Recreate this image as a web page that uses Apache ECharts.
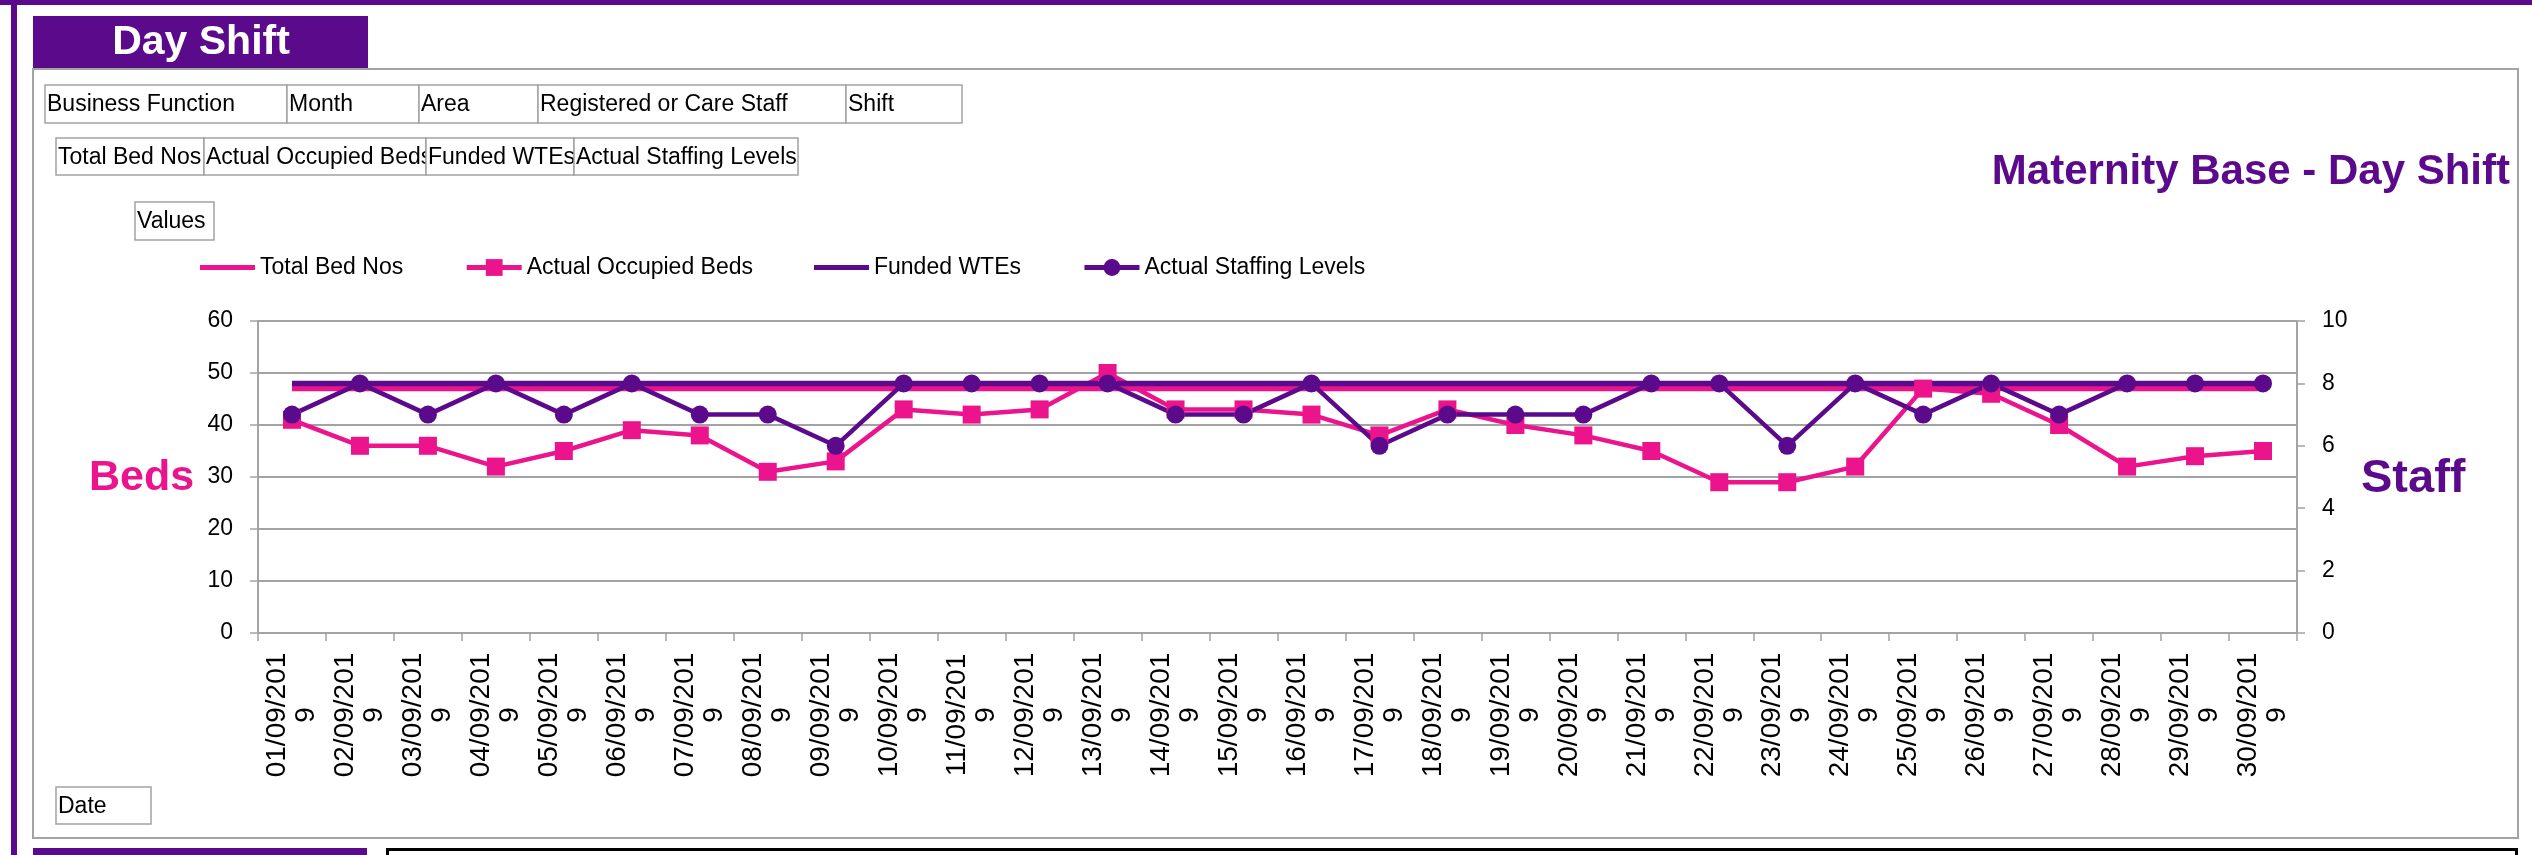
<!DOCTYPE html>
<html><head><meta charset="utf-8">
<script src="https://cdn.jsdelivr.net/npm/echarts@6/dist/echarts.min.js"></script>
<style>html,body{margin:0;padding:0;background:#fff}#c{width:2532px;height:855px}</style>
</head><body><div id="c"></div>
<script>
// ---- data ----
const dates = ['01/09/2019','02/09/2019','03/09/2019','04/09/2019','05/09/2019','06/09/2019','07/09/2019','08/09/2019','09/09/2019','10/09/2019',
  '11/09/2019','12/09/2019','13/09/2019','14/09/2019','15/09/2019','16/09/2019','17/09/2019','18/09/2019','19/09/2019','20/09/2019',
  '21/09/2019','22/09/2019','23/09/2019','24/09/2019','25/09/2019','26/09/2019','27/09/2019','28/09/2019','29/09/2019','30/09/2019'];
const totalBedNos = [47,47,47,47,47,47,47,47,47,47,47,47,47,47,47,47,47,47,47,47,47,47,47,47,47,47,47,47,47,47];
const actualOccupiedBeds = [41,36,36,32,35,39,38,31,33,43,42,43,50,43,43,42,38,43,40,38,35,29,29,32,47,46,40,32,34,35];
const fundedWTEs = [8,8,8,8,8,8,8,8,8,8,8,8,8,8,8,8,8,8,8,8,8,8,8,8,8,8,8,8,8,8];
const actualStaffingLevels = [7,8,7,8,7,8,7,7,6,8,8,8,8,7,7,8,6,7,7,7,8,8,6,8,7,8,7,8,8,8];
const seriesNames = ['Total Bed Nos','Actual Occupied Beds','Funded WTEs','Actual Staffing Levels'];
const bedsAxis = {min:0, max:60, interval:10};
const staffAxis = {min:0, max:10, interval:2};
const filterRow1 = ['Business Function','Month','Area','Registered or Care Staff','Shift'];
const filterRow2 = ['Total Bed Nos','Actual Occupied Beds','Funded WTEs','Actual Staffing Levels'];
const valuesLabel = 'Values';
const dateLabel = 'Date';
const chartTitle = 'Maternity Base - Day Shift';
const panelTitle = 'Day Shift';
const leftAxisTitle = 'Beds';
const rightAxisTitle = 'Staff';

// ---- layout / style ----
const PURPLE = '#5B0A8C', PINK = '#EC148C', GRAY = '#a3a3a3';
const FONT = '"Liberation Sans", Arial, sans-serif';
const row1Edges = [45,287,419,538,846,962];
const row2Edges = [56,204,426,574,798];
const LINE_ICON = 'path://M0,0L55,0L55,5L0,5Z';

function buttons(labels, edges, y, h){
  const out = [];
  labels.forEach((t,i)=>{
    out.push({type:'rect', shape:{x:edges[i], y:y, width:edges[i+1]-edges[i], height:h},
      style:{fill:'#fff', stroke:GRAY, lineWidth:1.5}});
    out.push({type:'text', x:edges[i]+2, y:y+h/2+1,
      style:{text:t, fill:'#000', font:'23px '+FONT, textAlign:'left', textVerticalAlign:'middle', align:'left', verticalAlign:'middle'}});
  });
  return out;
}

const graphics = [
  {type:'rect', shape:{x:0,y:0,width:2532,height:5}, style:{fill:PURPLE}},
  {type:'rect', shape:{x:11,y:0,width:6,height:855}, style:{fill:PURPLE}},
  {type:'rect', shape:{x:33,y:16,width:335,height:52}, style:{fill:PURPLE}},
  {type:'text', x:201, y:43, style:{text:panelTitle, fill:'#fff', font:'bold 41px '+FONT, textAlign:'center', textVerticalAlign:'middle', align:'center', verticalAlign:'middle'}},
  {type:'rect', shape:{x:33,y:69,width:2485,height:769}, style:{fill:'none', stroke:GRAY, lineWidth:2}},
  {type:'rect', shape:{x:33,y:848,width:334,height:10}, style:{fill:PURPLE}},
  {type:'rect', shape:{x:387.5,y:849.5,width:2129,height:20}, style:{fill:'none', stroke:'#000', lineWidth:3}},
  ...buttons(filterRow1, row1Edges, 85, 38),
  ...buttons(filterRow2, row2Edges, 138, 37),
  ...buttons([valuesLabel], [135,214], 202, 38),
  ...buttons([dateLabel], [56,151], 787, 37),
  {type:'text', x:2510, y:172, style:{text:chartTitle, fill:PURPLE, font:'bold 42px '+FONT, textAlign:'right', textVerticalAlign:'middle', align:'right', verticalAlign:'middle'}},
  {type:'text', x:89, y:478, style:{text:leftAxisTitle, fill:PINK, font:'bold 43px '+FONT, textAlign:'left', textVerticalAlign:'middle', align:'left', verticalAlign:'middle'}},
  {type:'text', x:2361, y:479, style:{text:rightAxisTitle, fill:PURPLE, font:'bold 47px '+FONT, textAlign:'left', textVerticalAlign:'middle', align:'left', verticalAlign:'middle'}}
];

const chart = echarts.init(document.getElementById('c'), null, {renderer:'canvas'});
chart.setOption({
  animation:false,
  textStyle:{fontFamily:FONT},
  graphic: graphics,
  legend:{
    data: [
      {name:seriesNames[0], icon:LINE_ICON},
      {name:seriesNames[1]},
      {name:seriesNames[2], icon:LINE_ICON},
      {name:seriesNames[3]}
    ],
    left:195, top:251, itemWidth:55, itemHeight:21, itemGap:61, symbolKeepAspect:true,
    lineStyle:{width:5},
    textStyle:{fontSize:23, color:'#000', fontFamily:FONT}
  },
  grid:{left:258, right:235, top:321, bottom:222, containLabel:false},
  xAxis:{
    type:'category', data:dates, boundaryGap:true,
    axisLine:{lineStyle:{color:GRAY, width:2}},
    axisTick:{show:true, length:8, lineStyle:{color:GRAY, width:1.5}, alignWithLabel:false},
    axisLabel:{interval:0, rotate:90, align:'center', verticalAlign:'middle', margin:82, lineHeight:29,
      fontSize:28, color:'#000', fontFamily:FONT,
      formatter: v => v.slice(0,9)+'\n'+v.slice(9)}
  },
  yAxis:[
    {type:'value', min:bedsAxis.min, max:bedsAxis.max, interval:bedsAxis.interval, position:'left',
      axisLine:{show:true, lineStyle:{color:GRAY, width:2}},
      axisTick:{show:true, length:8, lineStyle:{color:GRAY, width:1.5}},
      axisLabel:{fontSize:23, color:'#000', margin:25, fontFamily:FONT},
      splitLine:{show:true, lineStyle:{color:GRAY, width:2}}},
    {type:'value', min:staffAxis.min, max:staffAxis.max, interval:staffAxis.interval, position:'right',
      axisLine:{show:true, lineStyle:{color:GRAY, width:2}},
      axisTick:{show:true, length:8, lineStyle:{color:GRAY, width:1.5}},
      axisLabel:{fontSize:23, color:'#000', margin:25, fontFamily:FONT},
      splitLine:{show:false}}
  ],
  series:[
    {name:seriesNames[0], type:'line', yAxisIndex:0, data:totalBedNos, symbol:'none',
      lineStyle:{color:PINK, width:5.5}, itemStyle:{color:PINK}},
    {name:seriesNames[1], type:'line', yAxisIndex:0, data:actualOccupiedBeds, symbol:'rect', symbolSize:18,
      lineStyle:{color:PINK, width:4.5}, itemStyle:{color:PINK}},
    {name:seriesNames[2], type:'line', yAxisIndex:1, data:fundedWTEs, symbol:'none',
      lineStyle:{color:PURPLE, width:5.5}, itemStyle:{color:PURPLE}},
    {name:seriesNames[3], type:'line', yAxisIndex:1, data:actualStaffingLevels, symbol:'circle', symbolSize:18,
      lineStyle:{color:PURPLE, width:4.5}, itemStyle:{color:PURPLE}}
  ]
});
</script></body></html>
